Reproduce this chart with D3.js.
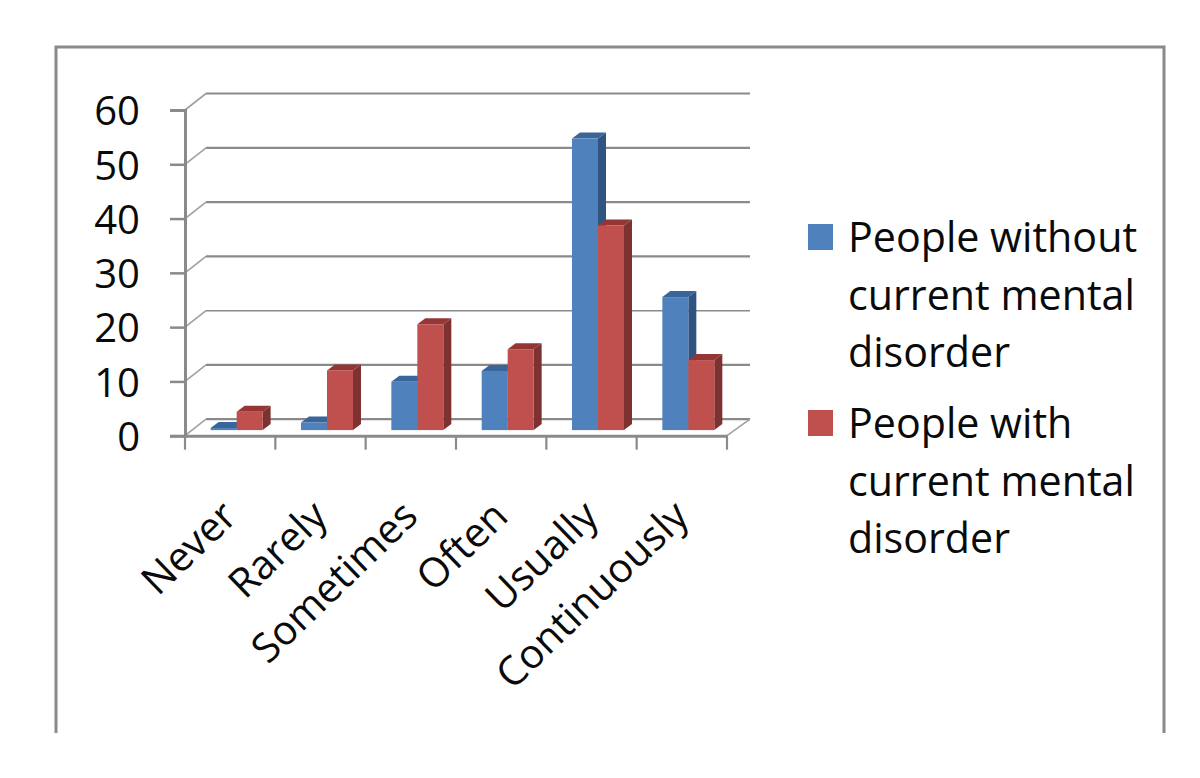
<!DOCTYPE html>
<html>
<head>
<meta charset="utf-8">
<script src="https://cdn.jsdelivr.net/npm/d3@7"></script>
<style>
  body { margin: 0; background: #fff; }
  svg { display: block; }
  text { font-family: "Open Sans", Lato, sans-serif; fill: #0a0a0a; }
</style>
</head>
<body>
<div class="canvas"></div>
<script>
const categories = ['Never', 'Rarely', 'Sometimes', 'Often', 'Usually', 'Continuously'];
const seriesNames = ['People without current mental disorder', 'People with current mental disorder'];
const withoutDisorder = [0.4, 1.4, 8.9, 10.9, 53.7, 24.5];
const withDisorder = [3.4, 11, 19.5, 14.9, 37.7, 12.9];
const yTicks = [0, 10, 20, 30, 40, 50, 60];
const legendLines = [
  ['People without', 'current mental', 'disorder'],
  ['People with', 'current mental', 'disorder']
];

const dims = { width: 1200, height: 778 };
const plot = { left: 185, right: 727, top: 110, bottom: 435.7 };
const wall = { dx: 21, dy: -16.5 };     // back wall offset
const barOff = { dx: 6.5, dy: -5.6 };   // bars stand a bit behind the front edge
const barDepth = { dx: 8, dy: -6 };

const colors = [
  { front: '#4f81bd', top: '#38659a', side: '#2f5482' },
  { front: '#c0504d', top: '#943634', side: '#7d3130' }
];
const axisGrey = '#8a8a8a';

const svg = d3.select('.canvas')
  .append('svg')
  .attr('width', dims.width)
  .attr('height', dims.height);

// outer frame, open at the bottom
svg.append('path')
  .attr('d', 'M56,733V47H1164V733')
  .attr('fill', 'none')
  .attr('stroke', axisGrey)
  .attr('stroke-width', 3);

const y = d3.scaleLinear().domain([0, 60]).range([plot.bottom, plot.top]);
const x0 = d3.scaleBand().domain(categories).range([plot.left, plot.right]);
const x1 = d3.scaleBand().domain([0, 1]).range([0, x0.bandwidth()]).paddingOuter(0.738).paddingInner(0);

// back wall gridlines and the slanted bits
const grid = svg.append('g');
grid.selectAll('line.back')
  .data(yTicks)
  .enter()
  .append('line')
  .attr('class', 'back')
  .attr('x1', plot.left + wall.dx)
  .attr('x2', plot.right + 23)
  .attr('y1', d => y(d) + wall.dy)
  .attr('y2', d => y(d) + wall.dy)
  .attr('stroke', axisGrey)
  .attr('stroke-width', d => d === 20 ? 1.5 : 2.2);
grid.selectAll('line.slant')
  .data(yTicks)
  .enter()
  .append('line')
  .attr('class', 'slant')
  .attr('x1', plot.left)
  .attr('x2', plot.left + wall.dx)
  .attr('y1', d => y(d))
  .attr('y2', d => y(d) + wall.dy)
  .attr('stroke', '#a0a0a0')
  .attr('stroke-width', 1.6);
// right edge of the floor
grid.append('line')
  .attr('x1', plot.right)
  .attr('y1', y(0))
  .attr('x2', plot.right + 23)
  .attr('y2', y(0) + wall.dy)
  .attr('stroke', '#a0a0a0')
  .attr('stroke-width', 1.6);

// bars
const series = [withoutDisorder, withDisorder];
const bars = svg.append('g');
const barRows = [];
categories.forEach((c, i) => series.forEach((s, j) => barRows.push({ c, j, v: s[i] })));

barRows.forEach(d => {
  const bx = x0(d.c) + x1(d.j) + barOff.dx;
  const bw = x1.bandwidth();
  const by = y(d.v) + barOff.dy;
  const base = y(0) + barOff.dy;
  const col = colors[d.j];
  const g = bars.append('g');
  g.append('path')
    .attr('fill', col.side)
    .attr('d', d3.line()([
      [bx + bw, by], [bx + bw + barDepth.dx, by + barDepth.dy],
      [bx + bw + barDepth.dx, base + barDepth.dy], [bx + bw, base]
    ]) + 'Z');
  g.append('path')
    .attr('fill', col.top)
    .attr('d', d3.line()([
      [bx, by], [bx + barDepth.dx, by + barDepth.dy],
      [bx + bw + barDepth.dx, by + barDepth.dy], [bx + bw, by]
    ]) + 'Z');
  g.append('rect')
    .attr('x', bx)
    .attr('y', by)
    .attr('width', bw)
    .attr('height', base - by)
    .attr('fill', col.front);
});

// axes
const yAxis = d3.axisLeft(y).tickValues(yTicks).tickSize(15).tickPadding(30);
const yG = svg.append('g').attr('transform', `translate(${plot.left},0)`).call(yAxis);
yG.selectAll('text').style('font-size', '40px').attr('y', 2);

const xAxis = d3.axisBottom(x0).tickSize(0).tickFormat('');
const xG = svg.append('g').attr('transform', `translate(0,${plot.bottom})`).call(xAxis);
xG.selectAll('line').remove();
xG.selectAll('text').remove();

// ticks between the groups, not at the centres
const tickEdges = categories.map(c => x0(c)).concat([plot.right]);
svg.append('g').selectAll('line')
  .data(tickEdges)
  .enter()
  .append('line')
  .attr('x1', d => d)
  .attr('x2', d => d)
  .attr('y1', plot.bottom)
  .attr('y2', plot.bottom + 14)
  .attr('stroke', axisGrey)
  .attr('stroke-width', 2.2);

svg.selectAll('.domain')
  .attr('stroke', axisGrey)
  .attr('stroke-width', 3);
yG.selectAll('.tick line').attr('stroke', axisGrey).attr('stroke-width', 2.5);

// rotated category labels
svg.append('g').selectAll('text')
  .data(categories)
  .enter()
  .append('text')
  .attr('text-anchor', 'end')
  .attr('transform', d => `translate(${x0(d) + x0.bandwidth() / 2 + 9},${plot.bottom + 83}) rotate(-44)`)
  .style('font-size', '40.5px')
  .text(d => d);

// legend
const legend = svg.append('g');
const legendTops = [237, 423];
legendLines.forEach((lines, i) => {
  legend.append('rect')
    .attr('x', 808)
    .attr('y', legendTops[i] - 13)
    .attr('width', 25)
    .attr('height', 26)
    .attr('fill', colors[i].front)
    .attr('aria-label', seriesNames[i]);
  lines.forEach((t, k) => {
    legend.append('text')
      .attr('x', 848)
      .attr('y', legendTops[i] + 15 + k * 57.5)
      .style('font-size', '41.2px')
      .text(t);
  });
});
</script>
</body>
</html>
